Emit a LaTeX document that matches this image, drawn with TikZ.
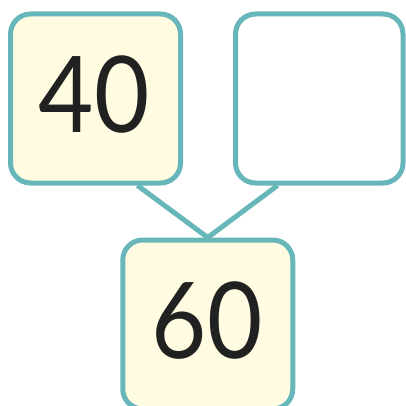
\documentclass[tikz,border=0pt]{standalone}
\usepackage{fontspec}
\setmainfont{Lato}
\usetikzlibrary{backgrounds}
\definecolor{teal1}{HTML}{67B6B9}
\definecolor{cream}{HTML}{FFFCE1}
\tikzset{
  numbox/.style={draw=teal1, line width=5pt, rounded corners=20pt, fill=cream,
    minimum width=170pt, minimum height=169pt, inner sep=0pt},
  emptybox/.style={numbox, fill=white},
  numtext/.style={font=\fontsize{106}{106}\selectfont, text=black!87, inner sep=0pt, xscale=0.9},
  link/.style={draw=teal1, line width=5pt}
}
\begin{document}
\begin{tikzpicture}[x=1pt,y=-1pt]
\useasboundingbox (0,0) rectangle (406,406);
\clip (0,0) rectangle (406,406);
\node[numbox] (tl) at (95.5,98.5) {};
\node[emptybox, minimum width=167.5pt] (tr) at (319.25,98.5) {};
\node[numbox] (bt) at (207.75,324.5) {};
\coordinate (tla) at ([xshift=-45.5pt]tl.south east);
\coordinate (tra) at ([xshift=44.5pt]tr.south west);
\begin{scope}[on background layer]
\draw[link] (tla) -- (bt.north) -- (tra);
\end{scope}
\node[numtext] (t40) at (94,94) {40};
\node[numtext] (t60) at (207,321) {60};
\end{tikzpicture}
\end{document}
